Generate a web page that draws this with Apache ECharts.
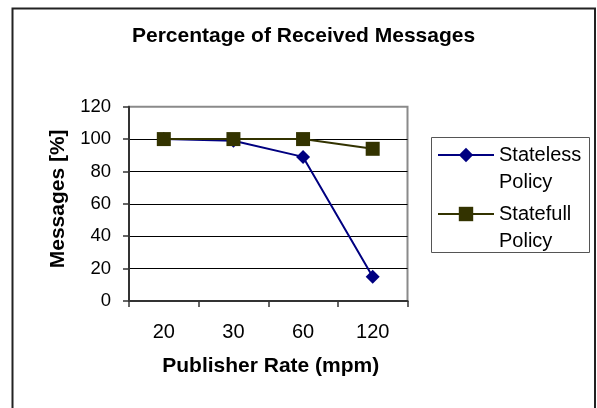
<!DOCTYPE html>
<html>
<head>
<meta charset="utf-8">
<script src="https://cdn.jsdelivr.net/npm/echarts@6/dist/echarts.min.js"></script>
<style>
  html, body { margin: 0; padding: 0; background: #fff; }
  #chart { width: 597px; height: 408px; }
</style>
</head>
<body>
<div id="chart"></div>
<script>
const categories = ['20', '30', '60', '120'];
const statelessValues = [100, 99, 89, 15];
const statefullValues = [100, 100, 100, 94];
const seriesNames = ['Stateless\nPolicy', 'Statefull\nPolicy'];
const yTicks = { min: 0, max: 120, interval: 20 };

const FONT = "'Liberation Sans', Arial, sans-serif";
const chart = echarts.init(document.getElementById('chart'), null, { renderer: 'canvas' });

chart.setOption({
  backgroundColor: '#ffffff',
  animation: false,
  title: {
    text: 'Percentage of Received Messages',
    left: 132, top: 26, padding: 0,
    textStyle: { fontFamily: FONT, fontSize: 21, fontWeight: 'bold', color: '#000' }
  },
  graphic: [
    { type: 'rect', z: -1, shape: { x: 12.5, y: 8.5, width: 582.5, height: 410 },
      style: { fill: 'none', stroke: '#222', lineWidth: 2 } },
    { type: 'rect', z: 1, shape: { x: 431.5, y: 137.5, width: 158, height: 115 },
      style: { fill: 'none', stroke: '#555', lineWidth: 1 } }
  ],
  legend: {
    left: 437, top: 114.5, padding: 0,
    orient: 'vertical',
    itemWidth: 56, itemHeight: 18, itemGap: -22,
    formatter: function (name) { return ' \n' + name; },
    textStyle: { fontFamily: FONT, fontSize: 20, color: '#000', lineHeight: 27 },
    data: seriesNames
  },
  grid: {
    left: 129, top: 106.7, right: 189.5, bottom: 107,
    show: true, borderColor: '#8a8a8a', borderWidth: 2, backgroundColor: '#fff'
  },
  xAxis: {
    type: 'category', data: categories, boundaryGap: true,
    name: 'Publisher Rate (mpm)', nameLocation: 'middle', nameGap: 55,
    nameTextStyle: { fontFamily: FONT, fontSize: 21, fontWeight: 'bold', color: '#000', padding: [0, 0, 0, 5] },
    axisLine: { lineStyle: { color: '#333', width: 2 } },
    axisTick: { show: true, length: 6, lineStyle: { color: '#333', width: 1.5 } },
    axisLabel: { fontFamily: FONT, fontSize: 20, color: '#000', margin: 21 },
    splitLine: { show: false }
  },
  yAxis: {
    type: 'value', min: yTicks.min, max: yTicks.max, interval: yTicks.interval,
    name: 'Messages [%]', nameLocation: 'middle', nameGap: 60,
    nameTextStyle: { fontFamily: FONT, fontSize: 21, fontWeight: 'bold', color: '#000', padding: [0, 0, 0, 10] },
    axisLine: { show: true, lineStyle: { color: '#333', width: 2 } },
    axisTick: { show: true, length: 6, lineStyle: { color: '#333', width: 1.5 } },
    axisLabel: { fontFamily: FONT, fontSize: 18.5, color: '#000', margin: 18 },
    splitLine: { show: true, lineStyle: { color: ['#000', '#000', '#000', '#000', '#000', '#000', '#8a8a8a'], width: 1 } }
  },
  series: [
    {
      name: seriesNames[0], type: 'line', data: statelessValues,
      symbol: 'diamond', symbolSize: 14,
      lineStyle: { color: '#000080', width: 2 },
      itemStyle: { color: '#000080' },
      z: 3
    },
    {
      name: seriesNames[1], type: 'line', data: statefullValues,
      symbol: 'rect', symbolSize: 14,
      lineStyle: { color: '#333300', width: 2 },
      itemStyle: { color: '#333300' },
      z: 4
    }
  ]
});
</script>
</body>
</html>
